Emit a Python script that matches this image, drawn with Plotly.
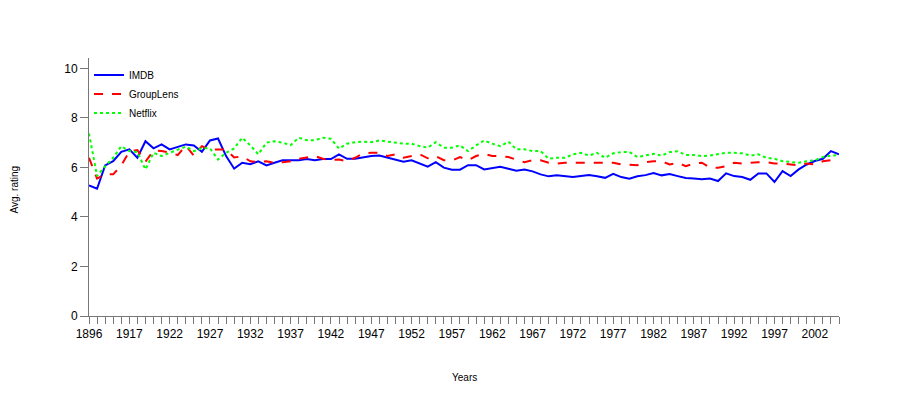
import plotly.graph_objects as go

years = [1896, 1911, 1913, 1915, 1916] + list(range(1917, 2006))
categories = [str(y) for y in years]

imdb = [5.27, 5.14, 6.08, 6.25, 6.63, 6.73, 6.39, 7.06, 6.77, 6.93,
        6.73, 6.84, 6.93, 6.89, 6.63, 7.09, 7.17, 6.46, 5.95, 6.19,
        6.13, 6.25, 6.08, 6.19, 6.29, 6.29, 6.29, 6.34, 6.29, 6.34,
        6.34, 6.53, 6.35, 6.35, 6.42, 6.46, 6.48, 6.39, 6.29, 6.23,
        6.29, 6.16, 6.03, 6.21, 5.99, 5.91, 5.91, 6.09, 6.09, 5.92,
        5.96, 6.03, 5.95, 5.87, 5.92, 5.84, 5.72, 5.64, 5.68, 5.66,
        5.61, 5.65, 5.69, 5.64, 5.58, 5.74, 5.61, 5.54, 5.64, 5.69,
        5.77, 5.68, 5.73, 5.65, 5.57, 5.55, 5.52, 5.55, 5.45, 5.76,
        5.65, 5.61, 5.50, 5.76, 5.76, 5.41, 5.85, 5.65, 5.92, 6.12,
        6.26, 6.35, 6.66, 6.53]

grouplens = [6.39, 5.55, 5.72, 5.72, 6.08, 6.64, 6.70, 6.23, 6.68, 6.66,
             6.60, 6.50, 6.88, 6.47, 6.86, 6.72, 6.72, 6.73, 6.40, 6.45,
             6.25, 6.21, 6.25, 6.19, 6.21, 6.25, 6.35, 6.42, 6.46, 6.35,
             6.30, 6.32, 6.25, 6.39, 6.57, 6.59, 6.59, 6.46, 6.53, 6.39,
             6.46, 6.53, 6.37, 6.46, 6.29, 6.28, 6.42, 6.29, 6.46, 6.55,
             6.46, 6.46, 6.42, 6.32, 6.21, 6.29, 6.29, 6.19, 6.16, 6.19,
             6.19, 6.19, 6.21, 6.19, 6.19, 6.19, 6.12, 6.09, 6.09, 6.21,
             6.25, 6.25, 6.12, 6.19, 6.05, 6.16, 6.19, 5.99, 5.99, 6.05,
             6.19, 6.16, 6.19, 6.21, 6.21, 6.16, 6.16, 6.12, 6.08, 6.16,
             6.12, 6.25, 6.29, 6.21]

netflix = [7.37, 5.65, 6.05, 6.39, 6.86, 6.66, 6.62, 5.92, 6.59, 6.46,
           6.59, 6.73, 6.84, 6.66, 6.77, 6.77, 6.32, 6.59, 6.77, 7.20,
           6.89, 6.53, 7.00, 7.06, 7.00, 6.90, 7.20, 7.10, 7.10, 7.20,
           7.16, 6.76, 6.96, 7.02, 7.04, 7.02, 7.09, 7.04, 7.00, 6.96,
           6.96, 6.86, 6.80, 7.02, 6.80, 6.80, 6.89, 6.66, 6.89, 7.09,
           6.96, 6.86, 7.04, 6.73, 6.73, 6.66, 6.66, 6.35, 6.39, 6.39,
           6.53, 6.59, 6.48, 6.59, 6.39, 6.57, 6.62, 6.63, 6.42, 6.48,
           6.55, 6.48, 6.62, 6.65, 6.50, 6.50, 6.46, 6.48, 6.55, 6.59,
           6.59, 6.57, 6.48, 6.53, 6.39, 6.35, 6.25, 6.23, 6.19, 6.25,
           6.29, 6.42, 6.48, 6.50]

y_ticks = [0, 2, 4, 6, 8, 10]
x_labels = [c if i % 5 == 0 else "" for i, c in enumerate(categories)]

fig = go.Figure()
fig.add_trace(go.Scatter(x=categories, y=imdb, name="IMDB", mode="lines",
                         line=dict(color="#0000FF", width=2)))
fig.add_trace(go.Scatter(x=categories, y=grouplens, name="GroupLens", mode="lines",
                         line=dict(color="#FF0000", width=2, dash="dash")))
fig.add_trace(go.Scatter(x=categories, y=netflix, name="Netflix", mode="lines",
                         line=dict(color="#00FF00", width=2, dash="dot")))

font_family = "Liberation Sans, Arial, sans-serif"
axis_font = dict(family=font_family, size=12, color="black")

fig.update_layout(
    width=900, height=400,
    margin=dict(l=81, r=69, t=50, b=92),
    paper_bgcolor="white", plot_bgcolor="white",
    showlegend=True,
    legend=dict(x=0.0, y=0.99, xanchor="left", yanchor="top",
                font=dict(family=font_family, size=10, color="black"),
                bgcolor="rgba(0,0,0,0)", itemwidth=30, tracegroupgap=0),
    xaxis=dict(type="category", categoryorder="array", categoryarray=categories,
               range=[0, len(categories) - 1],
               tickmode="array", tickvals=categories, ticktext=x_labels,
               ticks="outside", ticklen=7, tickcolor="#777", tickwidth=1,
               showline=True, linecolor="#777", linewidth=1,
               showgrid=False, zeroline=False, tickangle=0, tickfont=axis_font),
    yaxis=dict(range=[0, 10.42], tickmode="array", tickvals=y_ticks,
               ticks="outside", ticklen=8, tickcolor="#777", tickwidth=1,
               showline=True, linecolor="#777", linewidth=1,
               showgrid=False, zeroline=False, tickfont=axis_font),
    annotations=[
        dict(text="Avg. rating", xref="paper", yref="paper", x=-0.0987, y=0.49,
             xanchor="center", yanchor="middle",
             showarrow=False, textangle=-90,
             font=dict(family=font_family, size=10, color="black")),
        dict(text="Years", xref="paper", yref="paper", x=0.5, y=-0.24,
             xanchor="center", yanchor="middle",
             showarrow=False,
             font=dict(family=font_family, size=10, color="black")),
    ],
)

fig.write_html("out.html")
